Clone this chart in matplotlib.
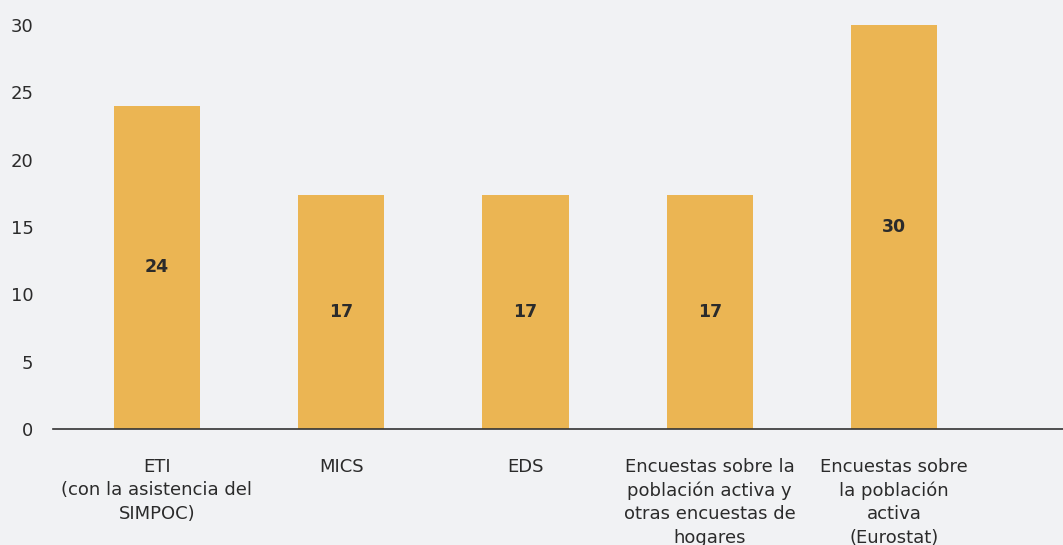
import numpy as np
import matplotlib.pyplot as plt

categories = [
    'ETI\n(con la asistencia del\nSIMPOC)',
    'MICS',
    'EDS',
    'Encuestas sobre la\npoblación activa y\notras encuestas de\nhogares',
    'Encuestas sobre\nla población\nactiva\n(Eurostat)',
]
values = [24, 17.4, 17.4, 17.4, 30]
value_labels = ['24', '17', '17', '17', '30']

bg = '#f1f2f4'
bar_color = '#ebb553'
text_color = '#2b2b2b'

plt.rcParams['font.family'] = ['DejaVu Sans']

fig = plt.figure(figsize=(10.63, 5.45), dpi=100, facecolor=bg)
ax = fig.add_axes([53 / 1063, 116 / 545, 1 - 53 / 1063, 404 / 545], facecolor=bg)

x = np.arange(len(categories))
ax.bar(x, values, width=0.467, color=bar_color, zorder=2)

for xi, v, lab in zip(x, values, value_labels):
    ax.text(xi, v / 2, lab, ha='center', va='center', fontsize=12.5,
            fontweight='bold', color=text_color)

ax.set_xlim(-0.564, 4.917)
ax.set_ylim(0, 30)
ax.set_yticks([0, 5, 10, 15, 20, 25, 30])
ax.set_xticks(x)
ax.set_xticklabels(categories, fontsize=13, color=text_color, linespacing=1.38)
ax.tick_params(axis='x', length=0, pad=21)
ax.tick_params(axis='y', length=0, pad=14, labelsize=13, labelcolor=text_color)

for side in ['top', 'right', 'left']:
    ax.spines[side].set_visible(False)
ax.spines['bottom'].set_color('#333333')
ax.spines['bottom'].set_linewidth(1.2)

fig.savefig('out.png', dpi=100, facecolor=bg)
